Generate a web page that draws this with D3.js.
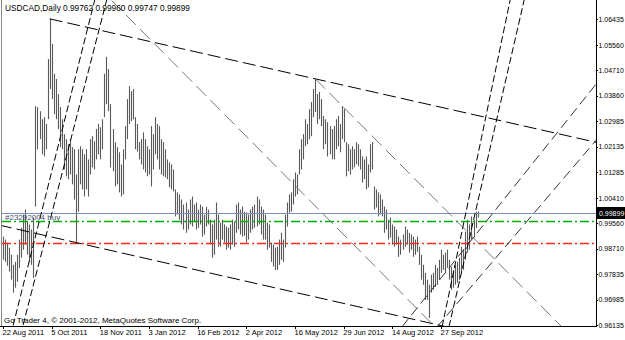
<!DOCTYPE html>
<html>
<head>
<meta charset="utf-8">
<script src="https://cdn.jsdelivr.net/npm/d3@7"></script>
<style>
body { margin: 0; background: #fff; }
svg { display: block; font-family: "Liberation Sans", Arial, sans-serif; }
.axis text { fill: #000; }
</style>
</head>
<body>
<script>
// window size
var w = 625;
var h = 340;

// daily bars, one per trading day
var highs = [
  0.9911,0.9901,0.9891,0.9874,0.9850,0.9816,0.9826,0.9850,0.9901,0.9941,
  0.9985,1.0002,0.9962,0.9952,0.9935,0.9975,1.0350,1.0347,1.0333,1.0306,
  1.0313,1.0290,1.0509,1.0644,1.0560,1.0459,1.0442,1.0391,1.0347,1.0306,
  1.0256,1.0239,1.0222,1.0239,1.0212,1.0205,1.0120,1.0205,1.0215,1.0205,
  1.0188,1.0205,1.0171,1.0239,1.0249,1.0232,1.0273,1.0290,1.0279,1.0306,
  1.0459,1.0516,1.0475,1.0357,1.0273,1.0229,1.0212,1.0195,1.0154,1.0205,
  1.0283,1.0374,1.0418,1.0401,1.0408,1.0313,1.0290,1.0229,1.0239,1.0262,
  1.0239,1.0215,1.0205,1.0283,1.0256,1.0313,1.0290,1.0283,1.0239,1.0229,
  1.0205,1.0171,1.0161,1.0154,1.0137,1.0070,1.0060,1.0053,1.0036,1.0019,
  1.0026,1.0002,1.0036,1.0046,1.0019,1.0026,1.0002,1.0019,1.0012,0.9985,
  1.0012,1.0002,0.9968,0.9952,0.9968,1.0026,0.9985,0.9958,0.9968,0.9952,
  0.9945,0.9941,0.9952,0.9968,0.9962,1.0019,1.0026,1.0002,1.0012,0.9995,
  0.9992,0.9985,1.0002,1.0012,1.0019,1.0046,1.0036,1.0012,1.0002,0.9985,
  0.9958,0.9952,0.9891,0.9884,0.9874,0.9877,0.9901,0.9924,0.9901,0.9985,
  1.0026,1.0053,1.0060,1.0104,1.0127,1.0120,1.0205,1.0239,1.0256,1.0306,
  1.0290,1.0340,1.0364,1.0408,1.0442,1.0391,1.0398,1.0374,1.0317,1.0306,
  1.0296,1.0283,1.0273,1.0283,1.0306,1.0317,1.0290,1.0350,1.0340,1.0229,
  1.0222,1.0205,1.0215,1.0205,1.0229,1.0222,1.0205,1.0181,1.0171,1.0181,
  1.0154,1.0222,1.0229,1.0080,1.0070,1.0060,1.0053,1.0036,1.0012,1.0002,
  0.9968,0.9975,0.9952,0.9945,0.9935,0.9911,0.9901,0.9918,0.9945,0.9935,
  0.9924,0.9918,0.9911,0.9901,0.9911,0.9877,0.9850,0.9816,0.9789,0.9766,
  0.9749,0.9783,0.9789,0.9816,0.9806,0.9833,0.9867,0.9850,0.9857,0.9867,
  0.9833,0.9810,0.9799,0.9816,0.9826,0.9840,0.9877,0.9867,0.9928,0.9968,
  0.9952,0.9979,0.9968,0.9995,0.9996
];
var lows = [
  0.9833,0.9826,0.9813,0.9793,0.9766,0.9722,0.9739,0.9759,0.9806,0.9840,
  0.9867,0.9884,0.9850,0.9826,0.9816,0.9772,1.0012,1.0205,1.0239,1.0188,
  1.0181,1.0205,1.0306,1.0408,1.0374,1.0323,1.0306,1.0273,1.0212,1.0205,
  1.0137,1.0114,1.0104,1.0120,1.0087,1.0036,0.9891,0.9995,1.0087,1.0070,
  1.0046,1.0070,1.0046,1.0120,1.0144,1.0137,1.0171,1.0188,1.0171,1.0205,
  1.0313,1.0357,1.0333,1.0144,1.0131,1.0080,1.0087,1.0060,1.0046,1.0053,
  1.0171,1.0239,1.0290,1.0300,1.0306,1.0205,1.0198,1.0171,1.0154,1.0137,
  1.0127,1.0114,1.0120,1.0080,1.0137,1.0188,1.0171,1.0137,1.0120,1.0114,
  1.0110,1.0104,1.0077,1.0070,1.0063,0.9979,0.9985,0.9968,0.9952,0.9935,
  0.9924,0.9935,0.9952,0.9945,0.9962,0.9935,0.9941,0.9952,0.9911,0.9918,
  0.9945,0.9952,0.9884,0.9840,0.9850,0.9901,0.9877,0.9877,0.9901,0.9891,
  0.9867,0.9874,0.9867,0.9884,0.9877,0.9924,0.9935,0.9918,0.9911,0.9914,
  0.9891,0.9901,0.9924,0.9935,0.9941,0.9945,0.9952,0.9918,0.9901,0.9901,
  0.9867,0.9874,0.9826,0.9810,0.9799,0.9799,0.9816,0.9833,0.9826,0.9874,
  0.9945,0.9992,0.9995,1.0019,1.0046,1.0053,1.0120,1.0137,1.0171,1.0215,
  1.0222,1.0239,1.0249,1.0313,1.0330,1.0290,1.0306,1.0283,1.0205,1.0222,
  1.0181,1.0188,1.0171,1.0171,1.0205,1.0215,1.0195,1.0239,1.0229,1.0114,
  1.0131,1.0120,1.0137,1.0144,1.0154,1.0148,1.0137,1.0093,1.0104,1.0070,
  1.0077,1.0127,1.0137,1.0002,1.0009,0.9979,0.9985,0.9979,0.9924,0.9935,
  0.9901,0.9908,0.9884,0.9877,0.9884,0.9843,0.9850,0.9867,0.9877,0.9884,
  0.9857,0.9867,0.9843,0.9850,0.9860,0.9816,0.9766,0.9749,0.9698,0.9698,
  0.9637,0.9722,0.9732,0.9742,0.9749,0.9766,0.9789,0.9799,0.9789,0.9806,
  0.9766,0.9732,0.9739,0.9749,0.9756,0.9766,0.9789,0.9799,0.9833,0.9857,
  0.9867,0.9901,0.9908,0.9940,0.9975
];

// time axis labels sit every 24 bars
var dateLabels = ["22 Aug 2011", "5 Oct 2011", "18 Nov 2011", "3 Jan 2012", "16 Feb 2012",
                  "2 Apr 2012", "16 May 2012", "29 Jun 2012", "14 Aug 2012", "27 Sep 2012"];
var dateBars = [0, 24, 48, 72, 96, 120, 144, 168, 192, 216];

var priceTicks = [1.06435, 1.05560, 1.04710, 1.03860, 1.02985, 1.02135, 1.01285,
                  1.00410, 0.99560, 0.98710, 0.97835, 0.96985, 0.96135];

var header = "USDCAD,Daily  0.99762 0.99960 0.99747 0.99899";
var copyright = "Go Trader 4, \u00a9 2001-2012, MetaQuotes Software Corp.";
var orderLabel = "#23292004 buy";
var bidPrice = 0.99899;
var orderPrice = 0.9962;
var stopPrice = 0.9891;

// trend lines: [bar, price] anchor, then a second point; drawn as rays
var lineNames = ["upper", "lower", "fallA", "fallB", "steepL1", "steepL2", "steepR1", "steepR2", "riseR1", "riseR2"];
var lineFrom = [[23, 1.0644], [-2, 0.9950], [53.7, 1.0705], [154, 1.0442], [45.4, 1.0712], [51.3, 1.0712],
                [216.5, 0.9607], [219.9, 0.9607], [196.7, 0.9607], [214, 0.9607]];
var lineTo = [[154, 1.0442], [36, 0.9891], [210.6, 0.9624], [275.6, 0.9607], [6.9, 0.9664], [11.8, 0.9664],
              [250, 1.0705], [256.9, 1.0705], [292.4, 1.0424], [292.4, 1.0235]];

var lineStyle = {
  upper:   {stroke: "#000", dash: "13,5"},
  lower:   {stroke: "#000", dash: "13,5"},
  fallA:   {stroke: "#777", dash: "14,6"},
  fallB:   {stroke: "#777", dash: "14,6"},
  steepL1: {stroke: "#000", dash: "7,3"},
  steepL2: {stroke: "#000", dash: "7,3"},
  steepR1: {stroke: "#000", dash: "7,3"},
  steepR2: {stroke: "#000", dash: "7,3"},
  riseR1:  {stroke: "#333", dash: "10,5"},
  riseR2:  {stroke: "#333", dash: "10,5"}
};

var plotLeft = 2, plotRight = 596, plotTop = 0, plotBottom = 326;

var svg = d3.select("body").append("svg")
  .attr("width", w)
  .attr("height", h);

var x = d3.scaleLinear().domain([0, 292.4]).range([3, plotRight]);
var y = d3.scaleLinear().domain([0.96135, 1.06435]).range([325, 19]);

svg.append("clipPath").attr("id", "plot")
  .append("rect")
  .attr("x", plotLeft).attr("y", plotTop)
  .attr("width", plotRight - plotLeft).attr("height", plotBottom - plotTop);

var plot = svg.append("g").attr("clip-path", "url(#plot)");

// bars
plot.selectAll("line.bar")
  .data(highs)
  .enter()
  .append("line")
  .attr("class", "bar")
  .attr("x1", function(d, i) { return Math.round(x(i)) + 0.5; })
  .attr("x2", function(d, i) { return Math.round(x(i)) + 0.5; })
  .attr("y1", function(d) { return y(d); })
  .attr("y2", function(d, i) { return y(lows[i]); })
  .attr("stroke", "#5a5a5a")
  .attr("stroke-width", 1.1);

// horizontal price lines, drawn over the bars
plot.append("line")
  .attr("x1", plotLeft).attr("x2", plotRight)
  .attr("y1", Math.round(y(bidPrice)) + 0.5).attr("y2", Math.round(y(bidPrice)) + 0.5)
  .attr("stroke", "#7b8fc4");
plot.append("line")
  .attr("x1", plotLeft).attr("x2", plotRight)
  .attr("y1", Math.round(y(orderPrice)) + 0.5).attr("y2", Math.round(y(orderPrice)) + 0.5)
  .attr("stroke", "#00b000")
  .attr("stroke-width", 1.3)
  .attr("stroke-dasharray", "9,3,2,3");
plot.append("line")
  .attr("x1", plotLeft).attr("x2", plotRight)
  .attr("y1", Math.round(y(stopPrice)) + 0.5).attr("y2", Math.round(y(stopPrice)) + 0.5)
  .attr("stroke", "#ff2a1a")
  .attr("stroke-width", 1.3)
  .attr("stroke-dasharray", "9,3,2,3");

// trend lines, extended far past the second anchor and clipped
plot.selectAll("line.trend")
  .data(lineNames)
  .enter()
  .append("line")
  .attr("class", "trend")
  .attr("x1", function(d, i) { return x(lineFrom[i][0]); })
  .attr("y1", function(d, i) { return y(lineFrom[i][1]); })
  .attr("x2", function(d, i) {
    var x1 = x(lineFrom[i][0]), x2 = x(lineTo[i][0]);
    return x1 + (x2 - x1) * 20;
  })
  .attr("y2", function(d, i) {
    var y1 = y(lineFrom[i][1]), y2 = y(lineTo[i][1]);
    return y1 + (y2 - y1) * 20;
  })
  .attr("stroke", function(d) { return lineStyle[d].stroke; })
  .attr("stroke-dasharray", function(d) { return lineStyle[d].dash; })
  .attr("stroke-width", 1);

// order label
svg.append("text")
  .attr("x", 5).attr("y", Math.round(y(orderPrice)) - 1)
  .style("font-size", "8px")
  .style("fill", "#4a5470")
  .text(orderLabel);

// left frame
svg.append("line")
  .attr("x1", 1.5).attr("x2", 1.5).attr("y1", 0).attr("y2", plotBottom)
  .attr("stroke", "#888");

// price axis
var yAxis = d3.axisRight(y)
  .tickValues(priceTicks)
  .tickSize(2)
  .tickPadding(1)
  .tickFormat(d3.format(".5f"));
var gy = svg.append("g")
  .attr("class", "axis")
  .attr("transform", "translate(" + (plotRight - 0.5) + ",0)")
  .call(yAxis);
gy.select(".domain").attr("d", "M0.5,0V" + (plotBottom + 0.5));
gy.selectAll("text").style("font-size", "7px").style("font-family", "'Liberation Sans', Arial, sans-serif");
gy.selectAll("line, path").attr("stroke", "#000").style("shape-rendering", "crispEdges");

// time axis
var xAxis = d3.axisBottom(x)
  .tickValues(dateBars)
  .tickSize(3)
  .tickPadding(1)
  .tickFormat(function(d, i) { return dateLabels[i]; });
var gx = svg.append("g")
  .attr("class", "axis")
  .attr("transform", "translate(0," + plotBottom + ")")
  .call(xAxis);
gx.select(".domain").attr("d", "M0,0.5H" + plotRight);
gx.selectAll("text")
  .style("font-size", "7.5px")
  .style("font-family", "'Liberation Sans', Arial, sans-serif")
  .attr("text-anchor", "start")
  .attr("dx", -1);
gx.selectAll("line, path").attr("stroke", "#000").style("shape-rendering", "crispEdges");

// bid price tag on the axis
var bidY = Math.round(y(bidPrice));
svg.append("rect")
  .attr("x", plotRight).attr("y", bidY - 6)
  .attr("width", w - plotRight).attr("height", 12)
  .attr("fill", "#000");
svg.append("text")
  .attr("x", plotRight + 3).attr("y", bidY + 3)
  .style("font-size", "7px")
  .attr("fill", "#fff")
  .text(d3.format(".5f")(bidPrice));

// header and copyright
svg.append("text")
  .attr("x", 5).attr("y", 11)
  .style("font-size", "8.3px")
  .text(header);
svg.append("text")
  .attr("x", 4).attr("y", 323)
  .style("font-size", "8px")
  .text(copyright);
</script>
</body>
</html>
